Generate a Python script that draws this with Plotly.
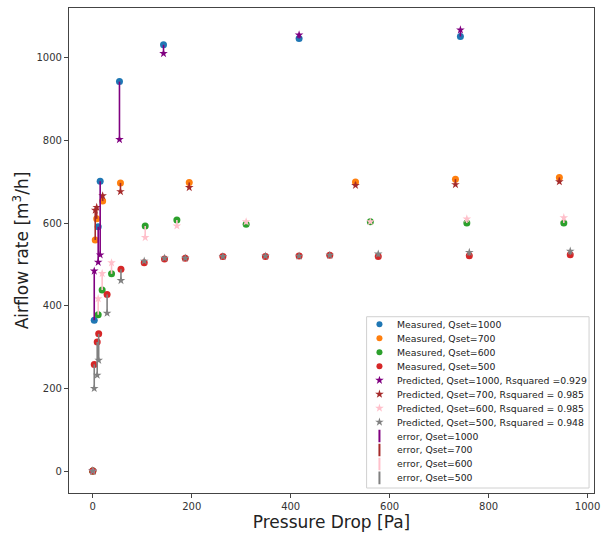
import plotly.graph_objects as go

# ---- data ----
dp_1000 = [0, 3, 11, 15, 54, 143, 417, 743]
meas_1000 = [0, 365, 591, 701, 942, 1031, 1046, 1051]
pred_1000 = [0, 484, 505, 523, 802, 1010, 1055, 1067]

dp_700 = [0, 5, 8, 20, 56, 195, 531, 733, 943]
meas_700 = [0, 559, 610, 653, 697, 698, 699, 706, 710]
pred_700 = [0, 631, 638, 666, 676, 686, 691, 693, 700]

dp_600 = [0, 11, 19, 38, 106, 170, 310, 561, 756, 952]
meas_600 = [0, 378, 438, 477, 593, 607, 597, 603, 600, 600]
pred_600 = [0, 417, 478, 504, 565, 593, 603, 603, 610, 613]

dp_500 = [0, 3, 9, 12, 29, 57, 104, 145, 187, 263, 349, 417, 479, 577, 761, 965]
meas_500 = [0, 258, 312, 332, 427, 488, 504, 513, 515, 519, 519, 520, 522, 519, 521, 523]
pred_500 = [0, 200, 232, 268, 382, 461, 508, 515, 515, 519, 520, 520, 522, 525, 529, 532]

qsets = ["1000", "700", "600", "500"]
rsq = ["=0.929", "= 0.985", "= 0.985", "= 0.948"]
meas_colors = ["#1f77b4", "#ff7f0e", "#2ca02c", "#d62728"]
pred_colors = ["#800080", "#a52a2a", "#ffc0cb", "#808080"]

series = [
    (dp_1000, meas_1000, pred_1000),
    (dp_700, meas_700, pred_700),
    (dp_600, meas_600, pred_600),
    (dp_500, meas_500, pred_500),
]

fig = go.Figure()

CIRCLE_SIZE = 7
STAR_SIZE = 6.5

# measured
for (dp, m, p), q, c in zip(series, qsets, meas_colors):
    fig.add_trace(go.Scatter(x=dp, y=m, mode="markers", name=f"Measured, Qset={q}",
                             marker=dict(symbol="circle", size=CIRCLE_SIZE, color=c, opacity=1)))
# predicted
for (dp, m, p), q, c, r in zip(series, qsets, pred_colors, rsq):
    fig.add_trace(go.Scatter(x=dp, y=p, mode="markers", name=f"Predicted, Qset={q}, Rsquared {r}",
                             marker=dict(symbol="star", size=STAR_SIZE, color=c, opacity=1)))
# error lines (measured -> predicted)
for (dp, m, p), q, c in zip(series, qsets, pred_colors):
    xs, ys = [], []
    for xi, mi, pi in zip(dp, m, p):
        xs += [xi, xi, None]
        ys += [mi, pi, None]
    fig.add_trace(go.Scatter(x=xs, y=ys, mode="lines", line=dict(color=c, width=1.6),
                             name=f"error, Qset={q}", hoverinfo="skip"))

# ---- compact legend (matplotlib-like spacing) on a small auxiliary axis ----
leg_labels = ([f"Measured, Qset={q}" for q in qsets]
              + [f"Predicted, Qset={q}, Rsquared {r}" for q, r in zip(qsets, rsq)]
              + [f"error, Qset={q}" for q in qsets])
leg_colors = meas_colors + pred_colors + pred_colors
leg_symbols = ["circle"] * 4 + ["star"] * 4 + ["line-ns-open"] * 4
leg_sizes = [CIRCLE_SIZE - 1] * 4 + [STAR_SIZE] * 4 + [9] * 4
ROW_H = 14.1
leg_rows = [7.7 + ROW_H * i for i in range(len(leg_labels))]
SW_X, TXT_X = 13, 29

fig.add_trace(go.Scatter(x=[SW_X] * 8, y=leg_rows[:8], xaxis="x2", yaxis="y2", mode="markers",
                         marker=dict(symbol=leg_symbols[:8], size=leg_sizes[:8], color=leg_colors[:8],
                                     line=dict(width=0), opacity=1),
                         hoverinfo="skip", showlegend=False))
fig.add_trace(go.Scatter(x=[SW_X] * 4, y=leg_rows[8:], xaxis="x2", yaxis="y2", mode="markers",
                         marker=dict(symbol=leg_symbols[8:], size=leg_sizes[8:], color=leg_colors[8:],
                                     line=dict(width=2, color=leg_colors[8:]), opacity=1),
                         hoverinfo="skip", showlegend=False))
for lab, yy in zip(leg_labels, leg_rows):
    fig.add_annotation(x=TXT_X, y=yy, xref="x2", yref="y2", text=lab, showarrow=False,
                       xanchor="left", yanchor="middle", font=dict(size=9.3, color="#222"))
fig.add_shape(type="rect", xref="x2 domain", yref="y2 domain", x0=0, x1=1, y0=0, y1=1,
              line=dict(color="#d0d0d0", width=1), layer="above")

axis_common = dict(showline=True, linecolor="#444", linewidth=1.2, mirror=True,
                   ticks="outside", ticklen=4, tickcolor="#444", showgrid=False, zeroline=False,
                   tickfont=dict(size=10, color="#333"))

fig.update_layout(
    width=607, height=533,
    margin=dict(l=69, r=7, t=8, b=38),
    plot_bgcolor="white", paper_bgcolor="white",
    font=dict(family="DejaVu Sans", color="#222"),
    showlegend=False,
    xaxis=dict(range=[-48, 1013], tickvals=[0, 200, 400, 600, 800, 1000],
               title=dict(text="Pressure Drop [Pa]", font=dict(size=17), standoff=2),
               **axis_common),
    yaxis=dict(range=[-53, 1120], tickvals=[0, 200, 400, 600, 800, 1000],
               title=dict(text="Airflow rate [m<sup>3</sup>/h]", font=dict(size=17), standoff=3),
               **axis_common),
    xaxis2=dict(domain=[(370 - 69) / 531, (595 - 69) / 531], range=[0, 225], anchor="y2",
                visible=False, fixedrange=True),
    yaxis2=dict(domain=[(495 - 490) / 487, (495 - 318) / 487], range=[173, 0], anchor="x2",
                visible=False, fixedrange=True),
)

fig.write_html("out.html")
